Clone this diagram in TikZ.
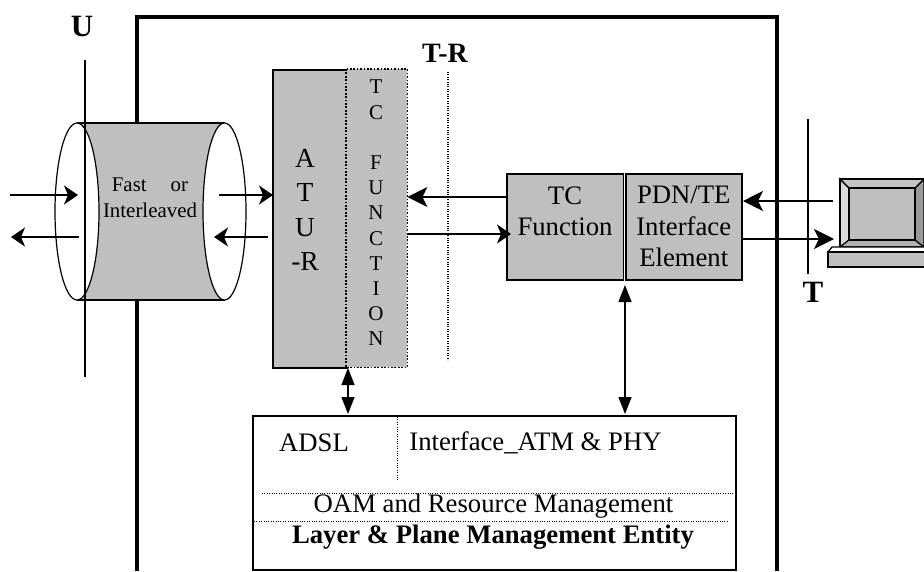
\documentclass[tikz,border=0pt]{standalone}
\usepackage{fontspec}
\setmainfont{Liberation Serif}
\usetikzlibrary{arrows.meta}
\definecolor{boxgrey}{gray}{0.75}
\tikzset{
  x=1pt,y=-1pt,
  greybox/.style={draw=black,fill=boxgrey,line width=1.5pt},
  dotline/.style={line width=1.7pt,dash pattern=on 1.7pt off 1.7pt},
  thindot/.style={line width=1pt,dash pattern=on 1pt off 1.4pt},
  conn/.style={line width=1.3pt,-{Stealth[length=14pt,width=19pt,inset=4pt]}},
  bigconn/.style={line width=1.3pt,-{Stealth[length=20pt,width=20pt,inset=5pt]}},
  biconn/.style={line width=1.4pt,{Stealth[length=17pt,width=13pt,inset=0pt]}-{Stealth[length=17pt,width=13pt,inset=0pt]}},
  lbl/.style={inner sep=0pt,align=center,font=\fontsize{26.7}{31.5}\selectfont},
}
\begin{document}
\begin{tikzpicture}
\useasboundingbox (0,0) rectangle (924,571);
% outer frame
\draw[line width=3.5pt] (137,571) -- (137,17) -- (777,17) -- (777,571);
% U line
\draw[line width=1.1pt] (85,60) -- (85,377);
\node[inner sep=0pt,font=\bfseries\fontsize{31}{31}\selectfont] (ulabel) at (82,26) {U};
% cylinder
\fill[boxgrey] (77,123) rectangle (225,300);
\draw[line width=1.2pt] (77,123) -- (225,123) (77,300) -- (225,300);
\draw[line width=1.2pt,fill=white] (77,211.5) ellipse[x radius=22,y radius=88.5];
\draw[line width=1.2pt,fill=white] (224.5,211.5) ellipse[x radius=21.5,y radius=88.5];
\draw[line width=1.1pt] (85,123) -- (85,300);
\node[inner sep=0pt,align=center,font=\fontsize{20.9}{26}\selectfont] (cyl) at (150,198) {Fast\hspace{0.9em} or\\Interleaved};
% ATU
\node[greybox,minimum width=74pt,minimum height=298pt,inner sep=0pt,anchor=north west] (atu) at (272,69) {};
\node[fill=boxgrey,minimum width=61pt,minimum height=298pt,inner sep=0pt,anchor=north west] (tcf) at (346,69) {};
\draw[dotline] (tcf.north west) rectangle (tcf.south east);
\node[lbl,font=\fontsize{27.5}{34.5}\selectfont] (atutext) at (305,210) {A\\T\\U\\-R};
\node[lbl,font=\fontsize{21}{25.2}\selectfont] (tctext) at (376,213) {T\\C\\\mbox{}\\F\\U\\N\\C\\T\\I\\O\\N};
% T-R
\draw[thindot,line width=1.3pt] (448,72) -- (448,360);
\node[inner sep=0pt,font=\bfseries\fontsize{28}{28}\selectfont] (trlabel) at (445,53) {T-R};
% TC / PDN
\node[greybox,minimum width=116.5pt,minimum height=106pt,inner sep=0pt,anchor=north west,lbl] (tcfun) at (506,173) {TC\\Function\\\mbox{}};
\node[greybox,minimum width=116pt,minimum height=106pt,inner sep=0pt,anchor=north west,lbl] (pdn) at (625,173) {PDN/TE\\Interface\\Element};
% T line
\draw[line width=1.8pt] (808,119) -- (808,274);
\node[inner sep=0pt,font=\bfseries\fontsize{31}{31}\selectfont] (tlabel) at (813,292) {T};
% computer
\fill[gray!45] (840,179) rectangle (924,247);
\filldraw[fill=gray!30,draw=black,line width=1.2pt] (840,179) -- (849,188) -- (849,240) -- (840,247) -- cycle;
\filldraw[fill=gray!60,draw=black,line width=1.2pt] (849,240) -- (840,247) -- (924,247) -- (915,240) -- cycle;
\filldraw[fill=gray!80,draw=black,line width=1.2pt] (915,188) -- (924,179) -- (924,247) -- (915,240) -- cycle;
\filldraw[fill=gray!45,draw=black,line width=1.2pt] (840,179) -- (924,179) -- (915,188) -- (849,188) -- cycle;
\filldraw[fill=boxgrey,draw=black,line width=1.2pt] (849,188) rectangle (915,240);
\draw[line width=1.5pt] (840,179) -- (930,179);
\draw[line width=1.5pt] (840,179) -- (840,247);
\draw[fill=white,line width=1.3pt] (832,247) -- (930,247) -- (930,252) -- (828,252) -- cycle;
\draw[fill=boxgrey,line width=1.4pt] (828,252) rectangle (930,267);
\coordinate (pcin) at (834,239);
\coordinate (pcout) at (833,201);
% arrows
\coordinate (ul1) at (10,195);\coordinate (ul2) at (78,195);
\coordinate (ul3) at (79,237);\coordinate (ul4) at (11,237);
\draw[conn] (ul1) -- (ul2);
\draw[conn] (ul3) -- (ul4);
\coordinate (ur1) at (219,195);\coordinate (ur2) at (273,195);
\coordinate (ur3) at (268,237);\coordinate (ur4) at (214,237);
\draw[conn] (ur1) -- (ur2);
\draw[conn] (ur3) -- (ur4);
\draw[bigconn] (tcfun.west |- 0,197) -- (tcf.east |- 0,197);
\draw[conn] (tcf.east |- 0,234) -- (511,234);
\draw[bigconn] (pcout) -- (743,201);
\draw[bigconn] (pdn.east |- 0,239) -- (pcin);
% lower box
\node[draw=black,line width=1.5pt,minimum width=483pt,minimum height=154pt,inner sep=0pt,anchor=north west] (mgmt) at (252,415) {};
\draw[biconn] (348,368) -- (348,414);
\draw[biconn] (625,285) -- (625,414);
\draw[thindot] (397,417) -- (397,481);
\draw[thindot] (262,493) -- (735,493);
\draw[thindot] (254,521) -- (729,521);
\node[lbl] (adsl) at (314,443) {ADSL};
\node[lbl] (iface) at (535.5,443) {Interface\_ATM \& PHY};
\node[lbl] (oam) at (493.5,506) {OAM and Resource Management};
\node[lbl,font=\bfseries\fontsize{26.7}{31}\selectfont] (layer) at (493,537) {Layer \& Plane Management Entity};
\end{tikzpicture}
\end{document}
